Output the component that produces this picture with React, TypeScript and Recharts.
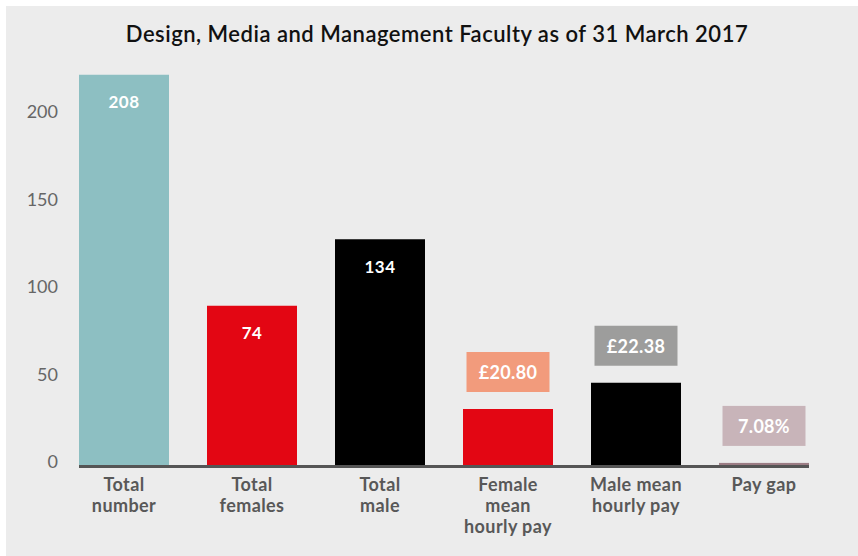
import { Bar, BarChart, Cell, LabelList, XAxis, YAxis } from "recharts";

const categories = [
  "Total number",
  "Total females",
  "Total male",
  "Female mean hourly pay",
  "Male mean hourly pay",
  "Pay gap",
];
const categoryLines = [
  ["Total", "number"],
  ["Total", "females"],
  ["Total", "male"],
  ["Female", "mean", "hourly pay"],
  ["Male mean", "hourly pay"],
  ["Pay gap"],
];
// bar heights as drawn in the picture (not the printed figures)
const barValues = [223, 91, 129, 32, 47, 1.2];
const valueLabels = ["208", "74", "134", "£20.80", "£22.38", "7.08%"];
const barColors = ["#8dbfc2", "#e30613", "#000000", "#e30613", "#000000", "#9c7d85"];
const boxColors = [null, null, null, "#f29b7c", "#9d9d9c", "#c8b4b9"];
const yTicks = [0, 50, 100, 150, 200];

const data = categories.map((name, i) => ({
  name,
  value: barValues[i],
  label: valueLabels[i],
}));

const FONT = "Lato, 'Open Sans', sans-serif";
const GAP = 19;

function BarWithBase(props: any) {
  const { x, y, width, height, fill, index } = props;
  const left = index === 0 ? x : x - GAP;
  const right = index === categories.length - 1 ? x + width : x + width + GAP;
  return (
    <g>
      <rect x={x} y={y} width={width} height={height} fill={fill} />
      <line x1={left} x2={right} y1={y + height + 1.5} y2={y + height + 1.5} stroke="#555555" strokeWidth={3} />
    </g>
  );
}

function ValueLabel(props: any) {
  const { x, y, width, index, value } = props;
  const cx = x + width / 2;
  const box = boxColors[index];
  if (!box) {
    return (
      <text x={cx} y={y + 27} textAnchor="middle" dominantBaseline="central" fill="#ffffff" fontFamily={FONT} fontWeight={700} fontSize={17} letterSpacing={0.5}>
        {value}
      </text>
    );
  }
  const bw = 83;
  const bh = 40;
  const by = y - 17 - bh;
  return (
    <g>
      <rect x={cx - bw / 2} y={by} width={bw} height={bh} fill={box} />
      <text x={cx} y={by + bh / 2} textAnchor="middle" dominantBaseline="central" fill="#ffffff" fontFamily={FONT} fontWeight={700} fontSize={18} letterSpacing={0.3}>
        {value}
      </text>
    </g>
  );
}

function CategoryTick(props: any) {
  const { x, y, index } = props;
  const lines = categoryLines[index] ?? [];
  return (
    <text x={x} y={y} textAnchor="middle" fill="#585858" fontFamily={FONT} fontWeight={700} fontSize={18} letterSpacing={0.4}>
      {lines.map((line, i) => (
        <tspan key={i} x={x} dy={i === 0 ? 26 : 21}>
          {line}
        </tspan>
      ))}
    </text>
  );
}

function ValueTick(props: any) {
  const { x, y, payload } = props;
  return (
    <text x={x} y={y - 4} textAnchor="end" dominantBaseline="central" fill="#666666" fontFamily={FONT} fontSize={18}>
      {payload.value}
    </text>
  );
}

export default function App() {
  return (
    <div style={{ position: "absolute", left: 6, top: 6, width: 852, height: 550, background: "#ececec" }}>
      <div
        style={{
          position: "absolute",
          left: 0,
          top: 14,
          width: 862,
          textAlign: "center",
          fontFamily: FONT,
          fontWeight: 600,
          fontSize: 22,
          letterSpacing: 0.5,
          color: "#111111",
        }}
      >
        Design, Media and Management Faculty as of 31 March 2017
      </div>
      <BarChart
        width={852}
        height={550}
        data={data}
        margin={{ top: 56.5, right: 30, bottom: 31, left: 4 }}
        barCategoryGap={GAP}
      >
        <XAxis dataKey="name" axisLine={false} tickLine={false} tickSize={0} tickMargin={0} height={60} interval={0} tick={<CategoryTick />} />
        <YAxis domain={[0, 230]} ticks={yTicks} axisLine={false} tickLine={false} tickSize={0} tickMargin={2} width={50} tick={<ValueTick />} />
        <Bar dataKey="value" isAnimationActive={false} shape={<BarWithBase />}>
          {data.map((d, i) => (
            <Cell key={d.name} fill={barColors[i]} />
          ))}
          <LabelList dataKey="label" content={<ValueLabel />} />
        </Bar>
      </BarChart>
    </div>
  );
}
